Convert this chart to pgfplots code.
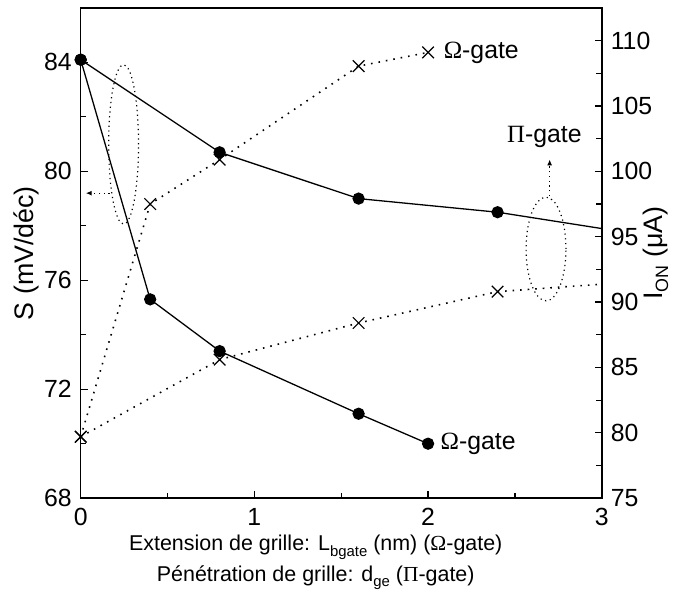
\documentclass[border=0pt]{standalone}
\usepackage{pgfplots}
\pgfplotsset{compat=1.18}
\usetikzlibrary{arrows.meta}
\usepackage{fontspec}
\setmainfont{Liberation Sans}
\newfontfamily\grk{Liberation Serif}
\newcommand{\sub}[1]{\raisebox{-2.6bp}{\fontsize{7.5}{8}\selectfont #1}}
\newcommand{\subb}[1]{\raisebox{-3bp}{\fontsize{9}{10}\selectfont #1}}
\begin{document}
\begin{tikzpicture}
\pgfplotsset{
  common/.style={
    width=261.5bp, height=246bp, scale only axis,
    xmin=0, xmax=3,
    axis line style={line width=0.8pt},
    every tick/.style={black, line width=0.6pt},
    tick align=inside,
    major tick length=3.5bp, minor tick length=2.8bp,
    ticklabel style={font=\fontsize{12.5}{14}\selectfont},
    /pgf/number format/assume math mode=true,
    label style={font=\fontsize{10.8}{15.5}\selectfont},
    clip=false,
  },
  dotline/.style={black, line width=0.8pt, dash pattern=on 0.8pt off 3pt},
  solidline/.style={black, line width=0.65pt},
}
\begin{axis}[common,
  ymin=68, ymax=86,
  ytick={68,72,76,80,84}, minor ytick={70,74,78,82},
  xtick={0,1,2,3}, minor xtick={0.5,1.5,2.5},
  xtick pos=bottom, ytick pos=left,
  yticklabel style={xshift=-1bp},
  xticklabel style={yshift=-1.5bp},
  ylabel={S (mV/déc)},
  ylabel style={at={(axis description cs:-0.1033,0.5)}, anchor=center, font=\fontsize{13.5}{15}\selectfont},
  xlabel={Extension de grille: L\sub{bgate} (nm) ({\grk Ω}-gate)\\Pénétration de grille: d\sub{ge} ({\grk Π}-gate)},
  xlabel style={align=center, at={(axis description cs:0.451,0)}, anchor=north, yshift=-18.5bp, inner sep=0pt},
]
% Pi-gate S
\addplot[solidline, mark=*, mark size=2.75bp, mark indices={1,2,3,4}, mark options={solid}]
  coordinates {(0,84.1) (0.8,80.7) (1.6,79.0) (2.4,78.5) (3,77.9)};
% Omega-gate S
\addplot[solidline, mark=*, mark size=2.75bp, mark options={solid}]
  coordinates {(0,84.1) (0.4,75.3) (0.8,73.4) (1.6,71.1) (2.0,70.0)};
% annotations
\draw[black, line width=0.6pt, dash pattern=on 0.6pt off 1.8pt] (axis cs:0.247,80.99) ellipse [x radius=7.5bp, y radius=40bp];
\draw[black, line width=0.6pt, dash pattern=on 0.6pt off 1.8pt, -{Latex[length=3bp,width=2.5bp]}] (axis cs:0.166,79.2) -- (axis cs:0.029,79.2);
\draw[black, line width=0.6pt, dash pattern=on 0.6pt off 1.8pt] (axis cs:2.679,77.15) ellipse [x radius=10bp, y radius=26bp];
\draw[black, line width=0.6pt, dash pattern=on 0.6pt off 1.8pt, -{Latex[length=3bp,width=2.5bp]}] (axis cs:2.70,79.09) -- (axis cs:2.70,80.44);
\node[anchor=west, inner sep=0pt, font=\fontsize{12.5}{14}\selectfont] at (axis cs:2.088,84.36) {{\grk Ω}-gate};
\node[anchor=center, inner sep=0pt, font=\fontsize{12.5}{14}\selectfont] at (axis cs:2.67,81.25) {{\grk Π}-gate};
\node[anchor=west, inner sep=0pt, font=\fontsize{12.5}{14}\selectfont] at (axis cs:2.07,69.98) {{\grk Ω}-gate};
\end{axis}
\begin{axis}[common,
  ymin=75, ymax=112.5,
  ytick={75,80,...,110}, minor ytick={77.5,82.5,...,107.5},
  axis y line*=right, axis x line=none,
  yticklabel style={xshift=1bp},
  ylabel={I\subb{ON} (μA)},
  ylabel style={at={(axis description cs:1.1033,0.5)}, anchor=center, font=\fontsize{13.5}{15}\selectfont},
]
% Omega-gate ION
\addplot[dotline, mark=x, mark size=4.1bp, mark options={solid, line width=0.6pt}]
  coordinates {(0,79.7) (0.4,97.5) (0.8,100.9) (1.6,108.05) (2.0,109.1)};
% Pi-gate ION
\addplot[dotline, mark=x, mark size=4.1bp, mark indices={1,2,3,4}, mark options={solid, line width=0.6pt}]
  coordinates {(0,79.7) (0.8,85.6) (1.6,88.4) (2.4,90.8) (3,91.37)};
\end{axis}
\path[use as bounding box] (-40.5bp,-50.5bp) rectangle (297bp,250bp);
\end{tikzpicture}
\end{document}
